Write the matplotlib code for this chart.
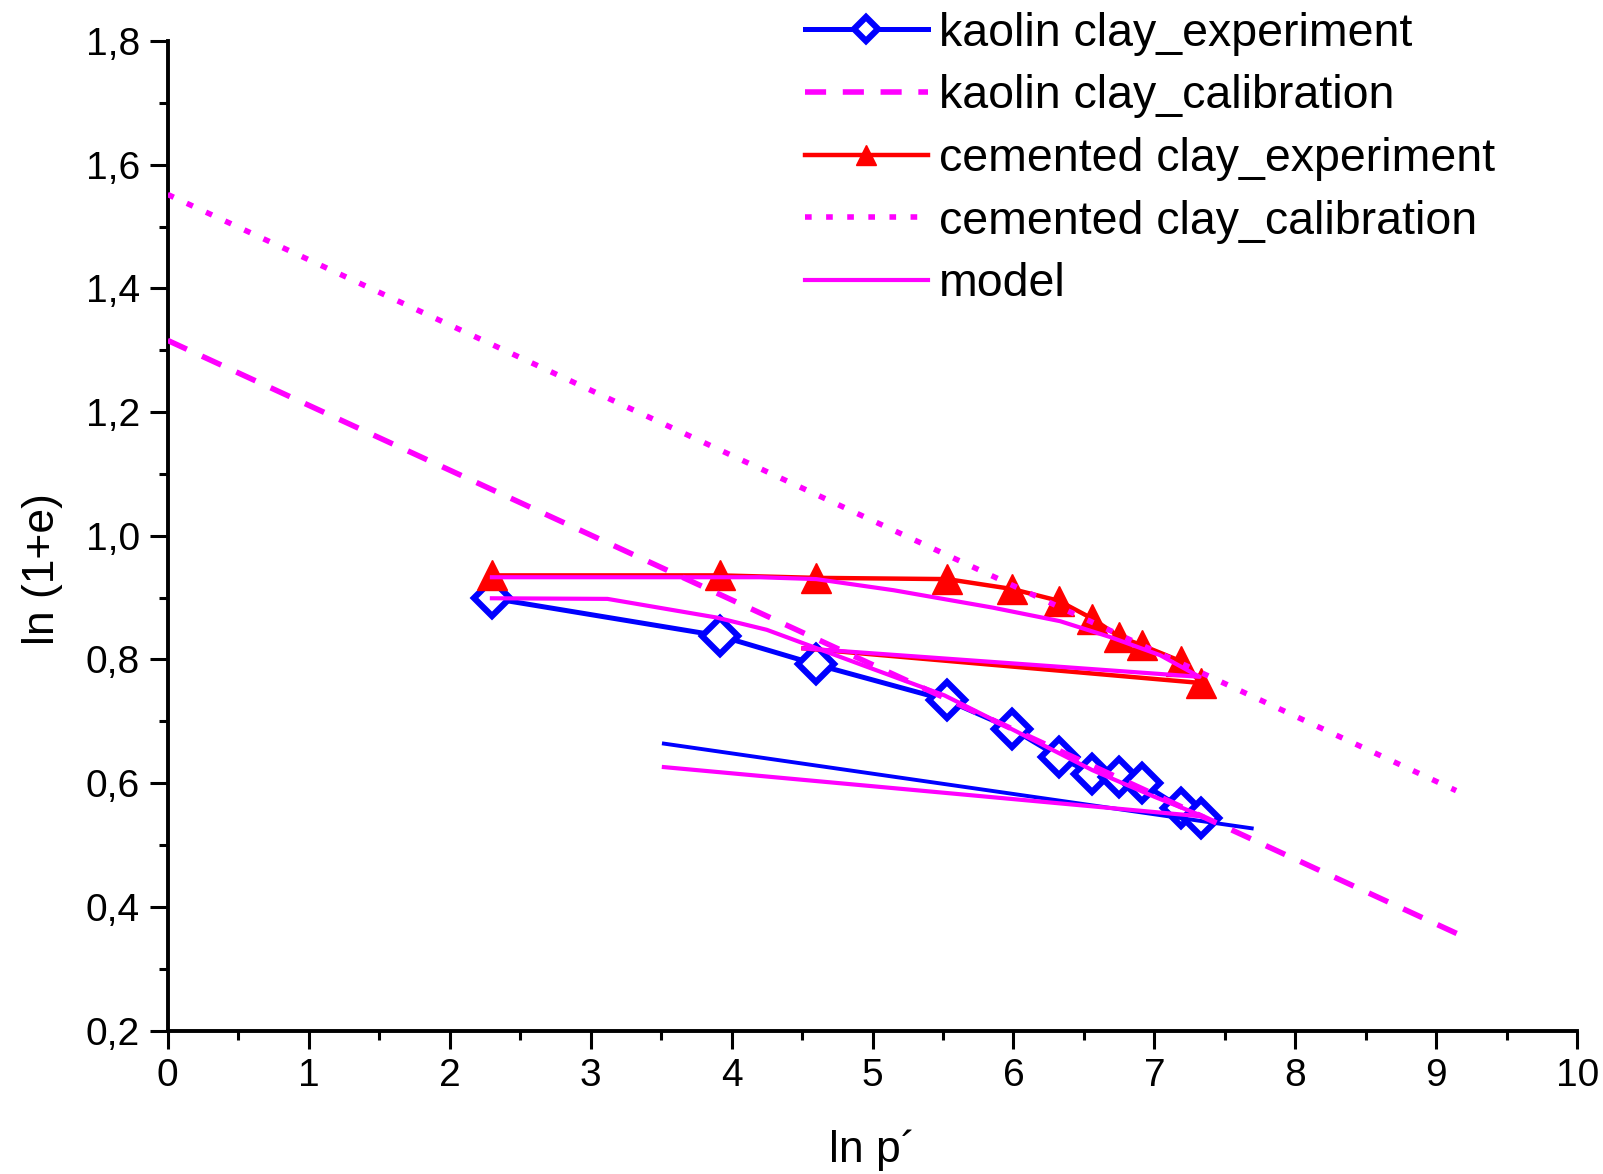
import matplotlib
matplotlib.use("Agg")
import matplotlib.pyplot as plt
from matplotlib.ticker import MultipleLocator, FuncFormatter

plt.rcParams['font.family'] = ['Liberation Sans', 'DejaVu Sans']

# --- dati ---
# kaolin clay, esperimento (carico)
kao_x = [2.30, 3.92, 4.60, 5.53, 5.99, 6.32, 6.56, 6.75, 6.91, 7.19, 7.33]
kao_y = [0.899, 0.838, 0.792, 0.734, 0.688, 0.643, 0.615, 0.610, 0.600, 0.560, 0.544]
# kaolin clay, esperimento (scarico)
kao_un_x = [3.52, 7.69]
kao_un_y = [0.664, 0.527]

# cemented clay, esperimento (carico)
cem_x = [2.30, 3.92, 4.60, 5.53, 5.99, 6.32, 6.56, 6.75, 6.91, 7.19, 7.33]
cem_y = [0.936, 0.936, 0.932, 0.930, 0.914, 0.895, 0.866, 0.837, 0.823, 0.797, 0.762]
# cemented clay, esperimento (scarico)
cem_un_x = [7.33, 4.51]
cem_un_y = [0.762, 0.818]

# rette di calibrazione
kcal_x = [0.0, 9.22]
kcal_y = [1.316, 0.349]
ccal_x = [0.0, 9.14]
ccal_y = [1.552, 0.588]

# modello
mod_k_x = [2.30, 3.12, 3.89, 4.25, 5.51, 6.00, 6.56, 7.00, 7.35, 3.52]
mod_k_y = [0.899, 0.898, 0.868, 0.848, 0.742, 0.686, 0.621, 0.578, 0.546, 0.626]
mod_c_x = [2.30, 4.20, 4.60, 5.15, 5.85, 6.33, 6.69, 7.04, 7.32, 4.51]
mod_c_y = [0.933, 0.933, 0.930, 0.912, 0.884, 0.862, 0.836, 0.807, 0.772, 0.818]

blu = (0, 0, 1)
rosso = (1, 0, 0)
magenta = (1, 0, 1)

fig = plt.figure(figsize=(16.03, 11.74), dpi=100)
ax = fig.add_axes([0.1046, 0.1222, 0.8794, 0.8428])

# esperimenti
l1, = ax.plot(kao_x, kao_y, '-', color=blu, lw=3.6,
    marker='D', markersize=18, markerfacecolor='white',
    markeredgecolor=blu, markeredgewidth=4.5, zorder=3)
ax.plot(kao_un_x, kao_un_y, '-', color=blu, lw=2.8, zorder=3)
l3, = ax.plot(cem_x, cem_y, '-', color=rosso, lw=3.2,
    marker='^', markersize=21, markerfacecolor=rosso,
    markeredgecolor=rosso, zorder=3)
ax.plot(cem_un_x, cem_un_y, '-', color=rosso, lw=3.2, zorder=3)

# calibrazioni
l2, = ax.plot(kcal_x, kcal_y, color=magenta, lw=4,
    linestyle=(0, (3.8, 3)), zorder=4)
l4, = ax.plot(ccal_x, ccal_y, color=magenta, lw=4,
    linestyle=(0, (1.2, 2.6)), zorder=4)

# modello
l5, = ax.plot(mod_k_x, mod_k_y, '-', color=magenta, lw=3, zorder=5)
ax.plot(mod_c_x, mod_c_y, '-', color=magenta, lw=3, zorder=5)

ax.set_xlim(0, 10)
ax.set_ylim(0.2, 1.8)

ax.spines['top'].set_visible(False)
ax.spines['right'].set_visible(False)
ax.spines['left'].set_linewidth(2.8)
ax.spines['bottom'].set_linewidth(2.8)

ax.xaxis.set_major_locator(MultipleLocator(1))
ax.xaxis.set_minor_locator(MultipleLocator(0.5))
ax.yaxis.set_major_locator(MultipleLocator(0.2))
ax.yaxis.set_minor_locator(MultipleLocator(0.1))
ax.yaxis.set_major_formatter(FuncFormatter(lambda v, p: ("%.1f" % v).replace('.', ',')))
ax.tick_params(which='major', direction='out', length=13, width=2.2,
    labelsize=28, pad=7)
ax.tick_params(which='minor', direction='out', length=6.5, width=2.2)

ax.set_xlabel(u'ln p\u00b4', fontsize=32, va='center')
ax.set_ylabel(u'ln (1+e)', fontsize=32, va='center')
ax.xaxis.set_label_coords(0.5, -0.1208)
ax.yaxis.set_label_coords(-0.0885, 0.466)

fig.legend((l1, l2, l3, l4, l5),
    ('kaolin clay_experiment', 'kaolin clay_calibration',
     'cemented clay_experiment', 'cemented clay_calibration', 'model'),
    loc='upper left', bbox_to_anchor=(0.502, 0.99), frameon=False,
    fontsize=33.5, handlelength=2.64, handletextpad=0.24,
    labelspacing=0.4, borderpad=0, borderaxespad=0, markerscale=0.7)

fig.savefig('out.png', dpi=100)
